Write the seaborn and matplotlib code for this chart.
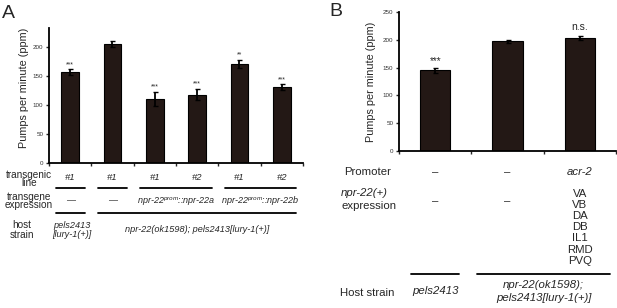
import matplotlib
matplotlib.use("Agg")
import matplotlib.pyplot as plt
import matplotlib.transforms as mtransforms
import pandas as pd
import seaborn as sns

sns.set_style("white")
plt.rcParams["font.family"] = ["Liberation Sans", "DejaVu Sans"]
plt.rcParams["mathtext.fontset"] = "custom"
plt.rcParams["mathtext.rm"] = "Liberation Sans"
plt.rcParams["mathtext.it"] = "Liberation Sans:italic"

BAR_COLOR = "#231815"
W, H = 617, 308

# ---- Panel A data ----
a_ids = ["a1", "a2", "a3", "a4", "a5", "a6"]
a_ppm = [157, 206, 111, 118, 171, 131]
a_err = [5, 5, 12, 10, 7, 5]
a_sig = ["***", "", "***", "***", "**", "***"]
a_line = ["#1", "#1", "#1", "#2", "#1", "#2"]
a_line_groups = [(0, 0), (1, 1), (2, 3), (4, 5)]
a_expr = ["\u2014", "\u2014",
          r"npr-22$^{prom}$::npr-22a", r"npr-22$^{prom}$::npr-22b"]
a_host_groups = [(0, 0), (1, 5)]
a_host = ["pels2413\n[lury-1(+)]", "npr-22(ok1598); pels2413[lury-1(+)]"]

# ---- Panel B data ----
b_ids = ["b1", "b2", "b3"]
b_ppm = [145, 197, 203]
b_err = [5, 2, 3]
b_sig = ["***", "", "n.s."]
b_promoter = ["\u2013", "\u2013", "acr-2"]
b_expr = ["\u2013", "\u2013", "VA\nVB\nDA\nDB\nIL1\nRMD\nPVQ"]
b_host_groups = [(0, 0), (1, 2)]
b_host = ["pels2413", "npr-22(ok1598);\npels2413[lury-1(+)]"]

df_a = pd.DataFrame({"id": a_ids, "ppm": a_ppm, "err": a_err})
df_b = pd.DataFrame({"id": b_ids, "ppm": b_ppm, "err": b_err})

fig = plt.figure(figsize=(W / 100, H / 100), dpi=100)


def fy(py):
    return 1 - py / H


def make_axes(l, t, r, b):
    return fig.add_axes([l / W, 1 - b / H, (r - l) / W, (b - t) / H])


def style_axes(ax, n, ymax, yticks):
    ax.set_xlim(-0.5, n - 0.5)
    ax.set_ylim(0, ymax)
    ax.set_yticks(yticks)
    ax.set_xticks([i - 0.5 for i in range(n + 1)])
    ax.set_xticklabels([])
    ax.set_xlabel("")
    ax.set_ylabel("Pumps per minute (ppm)", fontsize=7.8)
    for s in ["top", "right"]:
        ax.spines[s].set_visible(False)
    for s in ["left", "bottom"]:
        ax.spines[s].set_color("black")
        ax.spines[s].set_linewidth(1.3)
    ax.tick_params(axis="y", labelsize=4.5, length=2, width=1, pad=2,
                   direction="out", left=True, labelcolor="#333333")
    ax.tick_params(axis="x", length=2, width=1, direction="out", bottom=True)


def draw_bars(ax, df, width):
    sns.barplot(data=df, x="id", y="ppm", order=list(df["id"]), color=BAR_COLOR,
                edgecolor="black", linewidth=0.8, width=width, errorbar=None,
                saturation=1, ax=ax)
    ax.errorbar(range(len(df)), df["ppm"], yerr=df["err"], fmt="none",
                ecolor="black", elinewidth=1.3, capsize=1.8, capthick=1)


def group_line(ax, trans, g, py, pad):
    ax.plot([g[0] - pad, g[1] + pad], [fy(py), fy(py)], color="black", lw=1.3,
            transform=trans, clip_on=False)


# =========================================================
# Panel A
# =========================================================
ax_a = make_axes(49, 28, 303, 163)
draw_bars(ax_a, df_a, 0.42)
style_axes(ax_a, 6, 233, [0, 50, 100, 150, 200])
ax_a.yaxis.set_label_coords(-0.08, 0.56)
for i, (v, e, s) in enumerate(zip(a_ppm, a_err, a_sig)):
    if s:
        ax_a.text(i, v + e + 2, s, ha="center", va="bottom", fontsize=5)

ta = mtransforms.blended_transform_factory(ax_a.transData, fig.transFigure)
for i, lab in enumerate(a_line):
    ax_a.text(i, fy(177), lab, transform=ta, ha="center", va="center",
              fontsize=6.8, style="italic")
for g in a_line_groups:
    group_line(ax_a, ta, g, 188, 0.34)
for g, lab in zip(a_line_groups, a_expr):
    ax_a.text((g[0] + g[1]) / 2, fy(201), lab, transform=ta, ha="center",
              va="center", fontsize=6.5, style="italic")
for g in a_host_groups:
    group_line(ax_a, ta, g, 213, 0.34)
for g, lab in zip(a_host_groups, a_host):
    ax_a.text((g[0] + g[1]) / 2 + (0.05 if g[0] == 0 else 0), fy(230), lab,
              transform=ta, ha="center", va="center", fontsize=6.6,
              style="italic", linespacing=1.1)
fig.text(29 / W, fy(179), "transgenic\nline", ha="center", va="center",
         fontsize=7.2, linespacing=0.85)
fig.text(29 / W, fy(201), "transgene\nexpression", ha="center", va="center",
         fontsize=7.2, linespacing=0.85)
fig.text(22 / W, fy(230), "host\nstrain", ha="center", va="center",
         fontsize=7.2, linespacing=0.95)
fig.text(2 / W, fy(13), "A", ha="left", va="center", fontsize=14)

# =========================================================
# Panel B
# =========================================================
ax_b = make_axes(399, 12, 616, 151)
draw_bars(ax_b, df_b, 0.42)
style_axes(ax_b, 3, 250, [0, 50, 100, 150, 200, 250])
ax_b.yaxis.set_label_coords(-0.105, 0.5)
for i, (v, e, s) in enumerate(zip(b_ppm, b_err, b_sig)):
    if s == "***":
        ax_b.text(i, v + e + 3, s, ha="center", va="bottom", fontsize=7)
    elif s:
        ax_b.text(i, v + e + 8, s, ha="center", va="bottom", fontsize=7.5)

TB = 8.2
tb = mtransforms.blended_transform_factory(ax_b.transData, fig.transFigure)
for i, lab in enumerate(b_promoter):
    ax_b.text(i, fy(172), lab, transform=tb, ha="center", va="center",
              fontsize=TB, style="italic" if lab != "\u2013" else "normal")
for i, lab in enumerate(b_expr):
    if "\n" in lab:
        ax_b.text(i, fy(189), lab, transform=tb, ha="center", va="top",
                  fontsize=TB, linespacing=1.14)
    else:
        ax_b.text(i, fy(201), lab, transform=tb, ha="center", va="center",
                  fontsize=TB)
for g, pad in zip(b_host_groups, [0.33, 0.42]):
    group_line(ax_b, tb, g, 274, pad)
for g, lab in zip(b_host_groups, b_host):
    ax_b.text((g[0] + g[1]) / 2, fy(291.5), lab, transform=tb, ha="center",
              va="center", fontsize=TB, style="italic", linespacing=1.4)
fig.text(368 / W, fy(172), "Promoter", ha="center", va="center", fontsize=TB)
fig.text(341 / W, fy(193), "npr-22(+)", ha="left", va="center", fontsize=TB,
         style="italic")
fig.text(341 / W, fy(206), "expression", ha="left", va="center", fontsize=TB)
fig.text(340 / W, fy(293), "Host strain", ha="left", va="center", fontsize=TB)
fig.text(329 / W, fy(12), "B", ha="left", va="center", fontsize=14)

fig.savefig("out.png", dpi=100, facecolor="white")
